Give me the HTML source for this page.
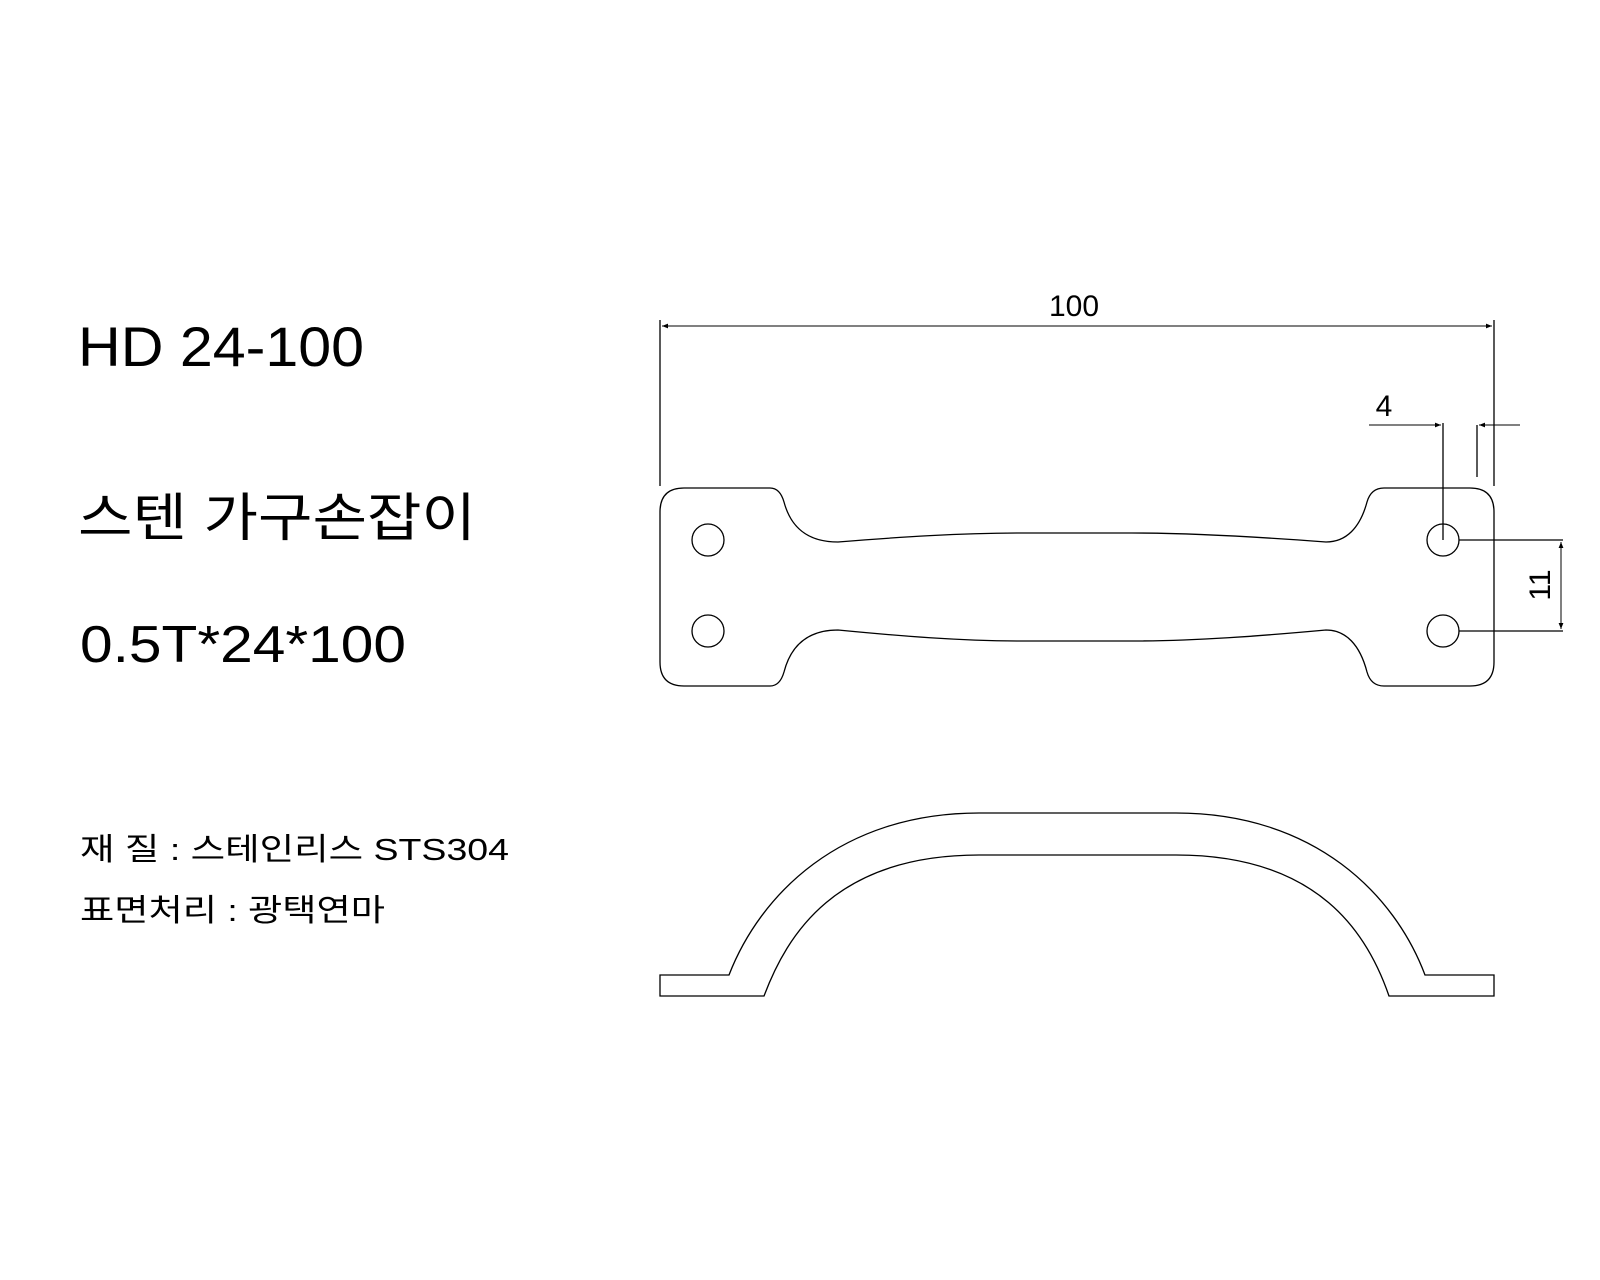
<!DOCTYPE html>
<html><head><meta charset="utf-8"><style>
html,body{margin:0;padding:0;background:#fff;width:1600px;height:1280px;overflow:hidden}
svg{display:block}
text{font-family:"Liberation Sans","Noto Sans CJK KR","NanumGothic",sans-serif;fill:#000}
</style></head><body>
<svg width="1600" height="1280" viewBox="0 0 1600 1280" xmlns="http://www.w3.org/2000/svg">
<defs>
<marker id="a" viewBox="0 0 10 10" refX="10" refY="5" markerWidth="12" markerHeight="6" orient="auto-start-reverse" markerUnits="userSpaceOnUse"><path d="M0,1 L10,5 L0,9 z" fill="#000"/></marker>
</defs>
<g fill="none" stroke="#000" stroke-width="1.3">
<line x1="660" y1="320" x2="660" y2="486"/>
<line x1="1494" y1="320" x2="1494" y2="486"/>
<line x1="662" y1="326" x2="1492" y2="326" marker-start="url(#a)" marker-end="url(#a)" stroke-width="1"/>
<path d="M684,488 L770,488 Q780,488 784,502 C791,528 808,542 838,542 C900,537 960,533 1022,533 L1132,533 C1195,533 1260,537 1326,542 C1346,542 1360,528 1367,502 Q1371,488 1384,488 L1470,488 Q1494,488 1494,512 L1494,662 Q1494,686 1470,686 L1384,686 Q1371,686 1367,672 C1360,645 1346,630 1326,630 C1260,636 1195,641 1132,641 L1022,641 C960,641 900,636 838,630 C808,630 791,645 784,672 Q780,686 770,686 L684,686 Q660,686 660,662 L660,512 Q660,488 684,488 Z"/>
<circle cx="708" cy="540" r="16"/><circle cx="708" cy="631" r="16"/>
<circle cx="1443" cy="540" r="16"/><circle cx="1443" cy="631" r="16"/>
<line x1="1443" y1="423" x2="1443" y2="540"/>
<line x1="1477" y1="425" x2="1477" y2="477"/>
<line x1="1369" y1="425" x2="1441" y2="425" marker-end="url(#a)" stroke-width="1"/>
<line x1="1520" y1="425" x2="1479" y2="425" marker-end="url(#a)" stroke-width="1"/>
<line x1="1459" y1="540" x2="1563" y2="540"/>
<line x1="1459" y1="631" x2="1563" y2="631"/>
<line x1="1561" y1="542" x2="1561" y2="629" marker-start="url(#a)" marker-end="url(#a)" stroke-width="1"/>
<path d="M660,975 L729,975 C760,895 840,813 979,813 L1176,813 C1315,813 1395,895 1425,975 L1494,975 L1494,996 L1389,996 C1368,935 1320,855 1176,855 L979,855 C835,855 787,935 764,996 L660,996 Z"/>
</g>
<text x="1074" y="316" font-size="30" text-anchor="middle">100</text>
<text x="1384" y="416" font-size="30" text-anchor="middle">4</text>
<text x="0" y="0" font-size="30" text-anchor="middle" transform="translate(1550,585) rotate(-90)">11</text>
<text x="78" y="366" font-size="56" textLength="286" lengthAdjust="spacingAndGlyphs">HD 24-100</text>
<text x="78" y="536" font-size="52" textLength="398" lengthAdjust="spacingAndGlyphs">스텐 가구손잡이</text>
<text x="80" y="662" font-size="52" textLength="326" lengthAdjust="spacingAndGlyphs">0.5T*24*100</text>
<text x="80" y="860" font-size="31" textLength="429" lengthAdjust="spacingAndGlyphs">재  질 :   스테인리스 STS304</text>
<text x="80" y="921" font-size="31" textLength="305" lengthAdjust="spacingAndGlyphs">표면처리 : 광택연마</text>
</svg>
</body></html>
